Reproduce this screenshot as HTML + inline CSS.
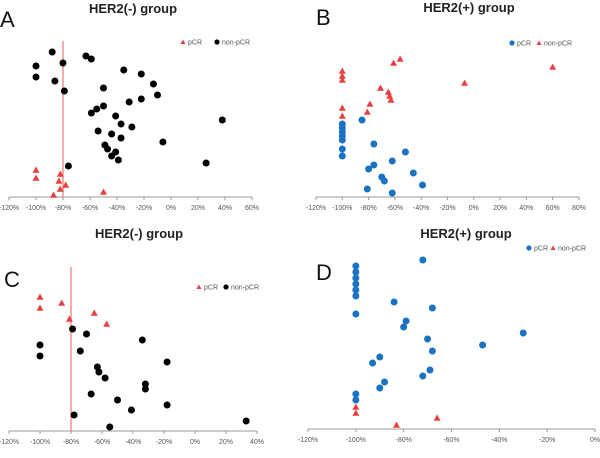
<!DOCTYPE html>
<html><head><meta charset="utf-8"><style>
html,body{margin:0;padding:0;background:#fff;}
svg{display:block;font-family:"Liberation Sans",sans-serif;}
</style></head><body>
<svg id="fig" width="600" height="458" viewBox="0 0 600 458"></svg>
<script>
// Panel A data (HER2- group): x = % change, y = arbitrary vertical order
const aTicks = [-120,-100,-80,-60,-40,-20,0,20,40,60];
const aNonX = [-88,-100,-80,-63,-59,-100,-86,-35,-22,-13,-79,-50,-10,-22,-31,-50,-55,-59,-41,-37,-29,38,-54,-44,-37,-6,-49,-47,-41,-44,-39,-76,26];
const aNonY = [145,131,134,141,138,120,116,127,123,113,106,109,102,98,95,91,88,84,81,73,70,77,66,63,59,55,52,48,45,41,37,31,34];
const aPcrX = [-100,-100,-82,-83,-78,-82,-87,-50];
const aPcrY = [27,19,23,16,12,8,2,5];
// Panel B data (HER2+ group)
const bTicks = [-120,-100,-80,-60,-40,-20,0,20,40,60,80];
const bPcrX = [-85,-100,-100,-100,-100,-100,-100,-100,-76,-52,-62,-76,-80,-46,-70,-68,-39,-81,-62];
const bPcrY = [77,73,69,65,61,57,48,41,53,45,36,32,28,24,20,16,12,8,4];
const bNonX = [-56,-61,60,-100,-100,-100,-7,-71,-65,-64,-63,-79,-100,-81,-100];
const bNonY = [138,134,130,126,121,117,114,109,105,101,97,93,89,85,81];
// Panel C data (HER2- group)
const cTicks = [-120,-100,-80,-60,-40,-20,0,20,40];
const cPcrX = [-100,-100,-86,-81,-65,-57];
const cPcrY = [134,123,128,112,118,107];
const cNonX = [-79,-70,-100,-100,-74,-34,-18,-63,-62,-58,-32,-32,-67,-50,-41,-18,-78,33,-55];
const cNonY = [102,97,86,75,80,91,69,64,59,53,47,42,37,31,21,26,16,10,4];
// Panel D data (HER2+ group)
const dTicks = [-120,-100,-80,-60,-40,-20,0];
const dPcrX = [-72,-100,-100,-100,-100,-100,-100,-100,-100,-100,-84,-68,-79,-80,-30,-70,-47,-68,-90,-93,-69,-72,-88,-90];
const dPcrY = [169,163,157,151,145,139,133,115,35,29,127,121,108,102,96,90,84,78,72,66,59,53,47,41];
const dNonX = [-100,-100,-83,-66];
const dNonY = [22,16,4,11];

const NS='http://www.w3.org/2000/svg';
const svg=document.getElementById('fig');
function mk(tag,attrs,parent){const e=document.createElementNS(NS,tag);for(const k in attrs)e.setAttribute(k,attrs[k]);(parent||svg).appendChild(e);return e;}
function txt(s,attrs,parent){const e=mk('text',attrs,parent);e.textContent=s;return e;}

function drawPanel(p){
  const g=mk('g',{});
  
  
  const xs=v=>p.x0+(v-p.xmin)/(p.xmax-p.xmin)*(p.x1-p.x0);
  const ys=v=>p.axisY-v;
  const ax=mk('line',{x1:xs(p.ticks[0]),x2:xs(p.ticks[p.ticks.length-1]),y1:p.axisY,y2:p.axisY,stroke:'#999','stroke-width':1},g);
  
  
  p.ticks.forEach(t=>{
    const tk=mk('line',{x1:xs(t),x2:xs(t),y1:p.axisY,y2:p.axisY+3,stroke:'#999','stroke-width':1},g);
    
    
    const tl=txt(t+'%',{x:xs(t),y:p.axisY+13,'font-size':7,fill:'#555','text-anchor':'middle'},g);
    
    
  });
  if(p.refLine){
    const rl=mk('line',{x1:xs(-80),x2:xs(-80),y1:p.refTop,y2:p.axisY,stroke:'#f08080','stroke-width':1.3},g);
    
    
  }
  const t=txt(p.title,{x:p.titleX,y:p.titleY,'font-size':13,'font-weight':'bold',fill:'#222','text-anchor':'middle'},g);
  
  
  const L=txt(p.letter,{x:p.letterX,y:p.letterY,'font-size':22,fill:'#111'},g);
  
  
  function tri(cx,cy,parent){return mk('polygon',{points:`${cx},${cy-3.5} ${cx-3.5},${cy+2.8} ${cx+3.5},${cy+2.8}`,fill:'#e8403f'},parent);}
  function dot(cx,cy,col,r,parent){return mk('circle',{cx:cx,cy:cy,r:r,fill:col},parent);}
  p.series.forEach(s=>{
    s.xs.forEach((xv,i)=>{
      let m;
      if(s.shape==='tri') m=tri(xs(xv),ys(s.ys[i]),g);
      else m=dot(xs(xv),ys(s.ys[i]),s.color,3.5,g);
      
      
    });
  });
  // legend
  let lx=p.legX;
  p.series.forEach(s=>{
    let m;
    if(s.shape==='tri') m=mk('polygon',{points:`${lx},${p.legY-2.5} ${lx-2.5},${p.legY+2} ${lx+2.5},${p.legY+2}`,fill:'#e8403f'},g);
    else m=mk('circle',{cx:lx,cy:p.legY,r:2.6,fill:s.color},g);
    
    
    const lt=txt(s.label,{x:lx+5,y:p.legY+2.5,'font-size':7,fill:'#555'},g);
    
    
    lx+=s.legW;
  });
}

drawPanel({name:'panel-a',title:'HER2(-) group',titleX:133,titleY:13,letter:'A',letterX:0,letterY:27,
  ticks:aTicks,xmin:-120,xmax:60,x0:9,x1:252,axisY:197,refLine:true,refTop:41,legX:183,legY:42,
  series:[{label:'pCR',shape:'tri',xs:aPcrX,ys:aPcrY,mark:'pcr-point',legW:34},
          {label:'non-pCR',shape:'dot',color:'#000',xs:aNonX,ys:aNonY,mark:'non-pcr-point',legW:40}]});
drawPanel({name:'panel-b',title:'HER2(+) group',titleX:469,titleY:12,letter:'B',letterX:316,letterY:25,
  ticks:bTicks,xmin:-120,xmax:80,x0:316,x1:579,axisY:197,refLine:false,legX:512,legY:43,
  series:[{label:'pCR',shape:'dot',color:'#1a73c2',xs:bPcrX,ys:bPcrY,mark:'pcr-point',legW:27},
          {label:'non-pCR',shape:'tri',xs:bNonX,ys:bNonY,mark:'non-pcr-point',legW:40}]});
drawPanel({name:'panel-c',title:'HER2(-) group',titleX:139,titleY:238,letter:'C',letterX:4,letterY:287,
  ticks:cTicks,xmin:-120,xmax:40,x0:9,x1:257,axisY:431,refLine:true,refTop:267,legX:199,legY:287,
  series:[{label:'pCR',shape:'tri',xs:cPcrX,ys:cPcrY,mark:'pcr-point',legW:27},
          {label:'non-pCR',shape:'dot',color:'#000',xs:cNonX,ys:cNonY,mark:'non-pcr-point',legW:40}]});
drawPanel({name:'panel-d',title:'HER2(+) group',titleX:466,titleY:238,letter:'D',letterX:316,letterY:280,
  ticks:dTicks,xmin:-120,xmax:0,x0:308,x1:595,axisY:429,refLine:false,legX:529,legY:248,
  series:[{label:'pCR',shape:'dot',color:'#1a73c2',xs:dPcrX,ys:dPcrY,mark:'pcr-point',legW:24},
          {label:'non-pCR',shape:'tri',xs:dNonX,ys:dNonY,mark:'non-pcr-point',legW:40}]});
</script>
</body></html>
